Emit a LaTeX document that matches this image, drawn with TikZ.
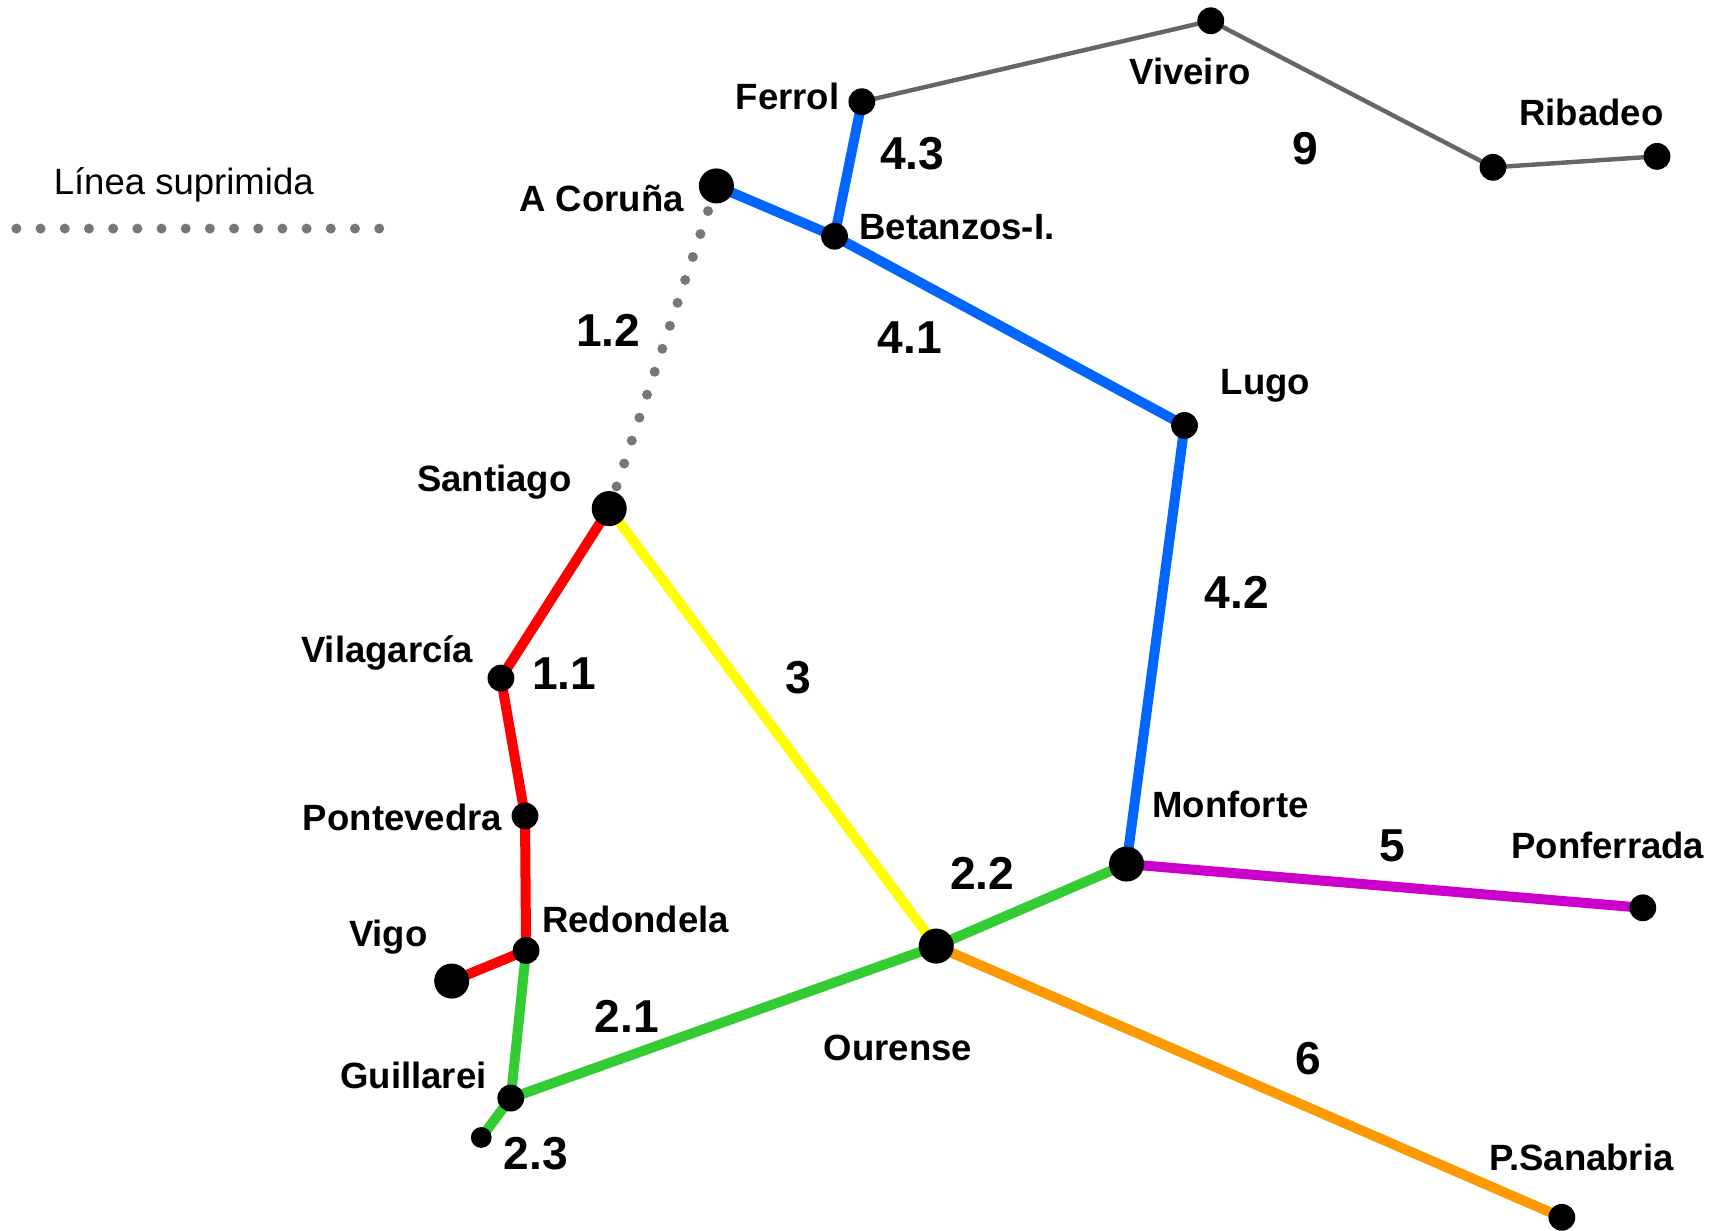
\documentclass[tikz,border=0pt]{standalone}
\usepackage{fontspec}
\setmainfont{Liberation Sans}
\usetikzlibrary{positioning}
\pgfdeclarelayer{background}
\pgfsetlayers{background,main}

\definecolor{lineblue}{HTML}{0066FF}
\definecolor{linered}{HTML}{FF0000}
\definecolor{linegreen}{HTML}{33CC33}
\definecolor{lineyellow}{HTML}{FFFF00}
\definecolor{lineorange}{HTML}{FF9900}
\definecolor{linemagenta}{HTML}{CC00CC}
\definecolor{linegray}{HTML}{666666}
\definecolor{dotgray}{HTML}{777777}

\begin{document}
\begin{tikzpicture}[x=0.01cm, y=-0.01cm,
		stop/.style={circle, fill=black, inner sep=0pt, minimum size=0.245cm},
		bigstop/.style={stop, minimum size=0.32cm},
		tinystop/.style={stop, minimum size=0.19cm},
		town/.style={anchor=base, font=\bfseries\fontsize{9.5}{11}\selectfont},
		num/.style={anchor=base, font=\bfseries\fontsize{12}{14}\selectfont},
		track/.style={line width=2.6pt, line join=round},
		oldtrack/.style={line width=1.15pt, linegray},
		closed/.style={line width=2.6pt, dotgray, line cap=round, dash pattern=on 0pt off 0.221cm}]
	\useasboundingbox (0,0) rectangle (1568,1125);

	% stations
	\node[stop] (Viveiro) at (1107, 19) {};
	\node[stop] (Ferrol) at (788, 93) {};
	\node[stop] (RibadeoW) at (1365, 153) {};
	\node[stop] (Ribadeo) at (1515, 143) {};
	\node[bigstop] (ACoruna) at (655, 170) {};
	\node[stop] (Betanzos) at (763, 216) {};
	\node[stop] (Lugo) at (1083, 389) {};
	\node[bigstop] (Santiago) at (557, 465) {};
	\node[stop] (Vilagarcia) at (458, 620) {};
	\node[stop] (Pontevedra) at (480, 746) {};
	\node[bigstop] (Monforte) at (1030, 790) {};
	\node[stop] (Ponferrada) at (1502, 830) {};
	\node[stop] (Redondela) at (481, 869) {};
	\node[bigstop] (Vigo) at (413, 897) {};
	\node[bigstop] (Ourense) at (856, 865) {};
	\node[stop] (Guillarei) at (467, 1004) {};
	\node[tinystop] (Tui) at (440, 1040) {};
	\node[stop] (Sanabria) at (1428, 1113) {};

	\begin{pgfonlayer}{background}
		\draw[oldtrack] (Ferrol.center) -- (Viveiro.center) -- (RibadeoW.center) -- (Ribadeo.center);
		\draw[track, lineblue] (ACoruna.center) -- (Betanzos.center) -- (Lugo.center) -- (Monforte.center);
		\draw[track, lineblue] (Betanzos.center) -- (Ferrol.center);
		\draw[closed, dash phase=0.2cm] (ACoruna.center) -- (Santiago.center);
		\draw[track, linered] (Santiago.center) -- (Vilagarcia.center) -- (Pontevedra.center) -- (Redondela.center) -- (Vigo.center);
		\draw[track, lineyellow] (Santiago.center) -- (Ourense.center);
		\draw[track, linegreen] (Redondela.center) -- (Guillarei.center) -- (Ourense.center) -- (Monforte.center);
		\draw[track, linegreen] (Guillarei.center) -- (Tui.center);
		\draw[track, linemagenta] (Monforte.center) -- (Ponferrada.center);
		\draw[track, lineorange] (Ourense.center) -- (Sanabria.center);
	\end{pgfonlayer}

	% station names
	\node[town] (lViveiro) at (1088, 77) {Viveiro};
	\node[town] (lFerrol) at (720, 100) {Ferrol};
	\node[town] (lRibadeo) at (1455, 115) {Ribadeo};
	\node[town] (lACoruna) at (550, 193) {A Coruña};
	\node[town] (lBetanzos) at (875, 219) {Betanzos-I.};
	\node[town] (lLugo) at (1157, 361) {Lugo};
	\node[town] (lSantiago) at (452, 449) {Santiago};
	\node[town] (lVilagarcia) at (354, 606) {Vilagarcía};
	\node[town] (lPontevedra) at (368, 759) {Pontevedra};
	\node[town] (lMonforte) at (1125, 747) {Monforte};
	\node[town] (lPonferrada) at (1470, 785) {Ponferrada};
	\node[town] (lVigo) at (355, 865) {Vigo};
	\node[town] (lRedondela) at (581, 853) {Redondela};
	\node[town] (lOurense) at (821, 970) {Ourense};
	\node[town] (lGuillarei) at (378, 995) {Guillarei};
	\node[town] (lSanabria) at (1446, 1070) {P.Sanabria};

	% line numbers
	\node[num] (n9) at (1193, 150) {9};
	\node[num] (n43) at (834, 155) {4.3};
	\node[num] (n12) at (556, 317) {1.2};
	\node[num] (n41) at (832, 323) {4.1};
	\node[num] (n42) at (1131, 556) {4.2};
	\node[num] (n11) at (516, 630) {1.1};
	\node[num] (n3) at (730, 634) {3};
	\node[num] (n5) at (1273, 788) {5};
	\node[num] (n22) at (898, 813) {2.2};
	\node[num] (n21) at (573, 944) {2.1};
	\node[num] (n6) at (1196, 982) {6};
	\node[num] (n23) at (490, 1069) {2.3};

	% legend
	\node[anchor=base, font=\fontsize{9.5}{11}\selectfont] (legtext) at (168, 178) {Línea suprimida};
	\coordinate (legA) at (15, 209);
	\coordinate (legB) at (350, 209);
	\draw[closed] (legA) -- (legB);
\end{tikzpicture}
\end{document}
